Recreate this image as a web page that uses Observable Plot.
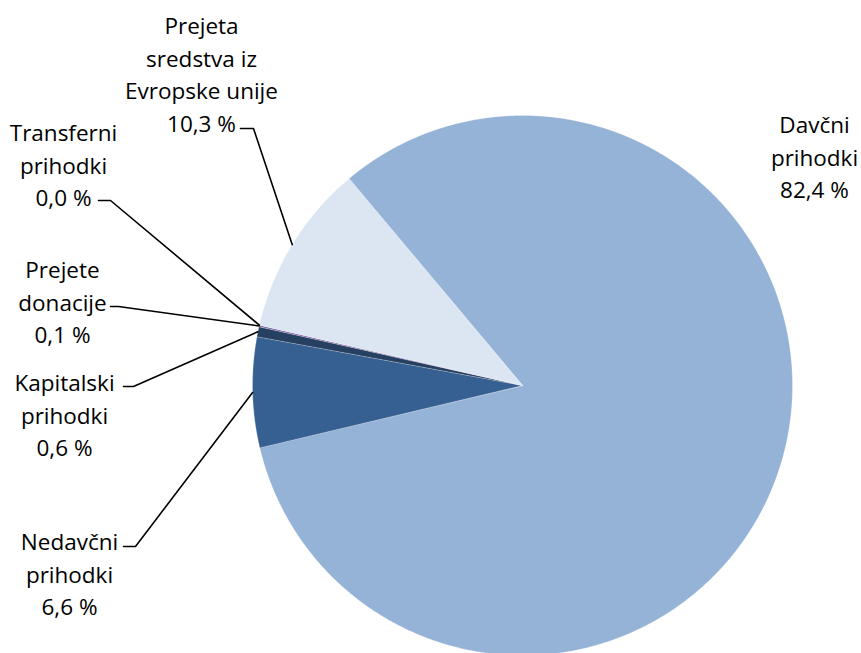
<!DOCTYPE html>
<html>
<head>
<meta charset="utf-8">
<script src="https://cdn.jsdelivr.net/npm/d3@7"></script>
<script src="https://cdn.jsdelivr.net/npm/@observablehq/plot@0.6"></script>
<style>
  html, body { margin: 0; padding: 0; background: #fff; }
  #chart { width: 861px; height: 653px; overflow: hidden; }
</style>
</head>
<body>
<div id="chart"></div>
<script>
// ---- data (clockwise order starting at the top-left boundary) ----
const categories = ["Davčni prihodki", "Nedavčni prihodki", "Kapitalski prihodki", "Prejete donacije", "Transferni prihodki", "Prejeta sredstva iz Evropske unije"];
const labelLines = ["Davčni\nprihodki", "Nedavčni\nprihodki", "Kapitalski\nprihodki", "Prejete\ndonacije", "Transferni\nprihodki", "Prejeta\nsredstva iz\nEvropske unije"];
const shares = [82.4, 6.6, 0.6, 0.1, 0.0, 10.3];

// ---- layout ----
const W = 861, H = 653;
const cx = 522, cy = 385, R = 270;
const startDeg = 320;               // Davčni starts here (clockwise from 12 o'clock)
const colors = ["#95b3d7", "#366092", "#254061", "#8064a2", "#f79646", "#dce6f2"];
const labelPos = [  // [centre x, first line centre y, leader start x, leader elbow x, leader y]
  [814, 122, null, null, null],
  [69, 539, 123, 135, 546],
  [64, 380, 123, 133, 386],
  [62, 267, 110, 118, 306],
  [63, 130, 98, 110, 200],
  [201, 23, 240, 253, 128]
];
const fontSize = 22.5, lineGap = 32.7;

const total = d3.sum(shares);
const toXY = (deg, r) => {
  const a = deg * Math.PI / 180;
  return [cx + r * Math.sin(a), cy - r * Math.cos(a)];
};

// slice polygons
const slicePts = [];
const slices = [];
let acc = startDeg;
categories.forEach((c, i) => {
  const span = shares[i] / total * 360;
  const a0 = acc, a1 = acc + span;
  acc = a1;
  slices.push({cat: c, a0, a1, mid: (a0 + a1) / 2});
  if (span <= 0) return;
  slicePts.push({cat: c, x: cx, y: cy});
  const n = Math.max(2, Math.ceil(span / 0.25));
  for (let k = 0; k <= n; k++) {
    const [x, y] = toXY(a0 + span * k / n, R);
    slicePts.push({cat: c, x, y});
  }
});

// labels
const fmt = v => v.toFixed(1).replace(".", ",") + " %";
const labels = categories.map((c, i) => {
  const lines = labelLines[i] + "\n" + fmt(shares[i]);
  const n = lines.split("\n").length;
  return {cat: c, text: lines, x: labelPos[i][0], y: labelPos[i][1] + (n - 1) * lineGap / 2};
});

// leader lines
const leaders = [];
categories.forEach((c, i) => {
  const p = labelPos[i];
  if (p[2] == null) return;
  const [ex, ey] = toXY(slices[i].mid, R);
  leaders.push({cat: c, x: p[2], y: p[4]});
  leaders.push({cat: c, x: p[3], y: p[4]});
  leaders.push({cat: c, x: ex, y: ey});
});

const chart = Plot.plot({
  width: W,
  height: H,
  margin: 0,
  x: {domain: [0, W], range: [0, W], axis: null},
  y: {domain: [0, H], range: [0, H], axis: null},
  color: {domain: categories, range: colors},
  style: {fontFamily: "'Open Sans', Lato, sans-serif", background: "#fff"},
  marks: [
    Plot.line(slicePts, {x: "x", y: "y", z: "cat", fill: "cat", stroke: "#ffffff", strokeOpacity: 0.35, strokeWidth: 0.7, curve: "linear-closed"}),
    Plot.line(leaders, {x: "x", y: "y", z: "cat", stroke: "#000", strokeWidth: 1.6}),
    Plot.text(labels, {x: "x", y: "y", text: "text", fontSize, lineHeight: lineGap / fontSize, lineAnchor: "middle", textAnchor: "middle", fill: "#000"})
  ]
});
document.getElementById("chart").appendChild(chart);
</script>
</body>
</html>
